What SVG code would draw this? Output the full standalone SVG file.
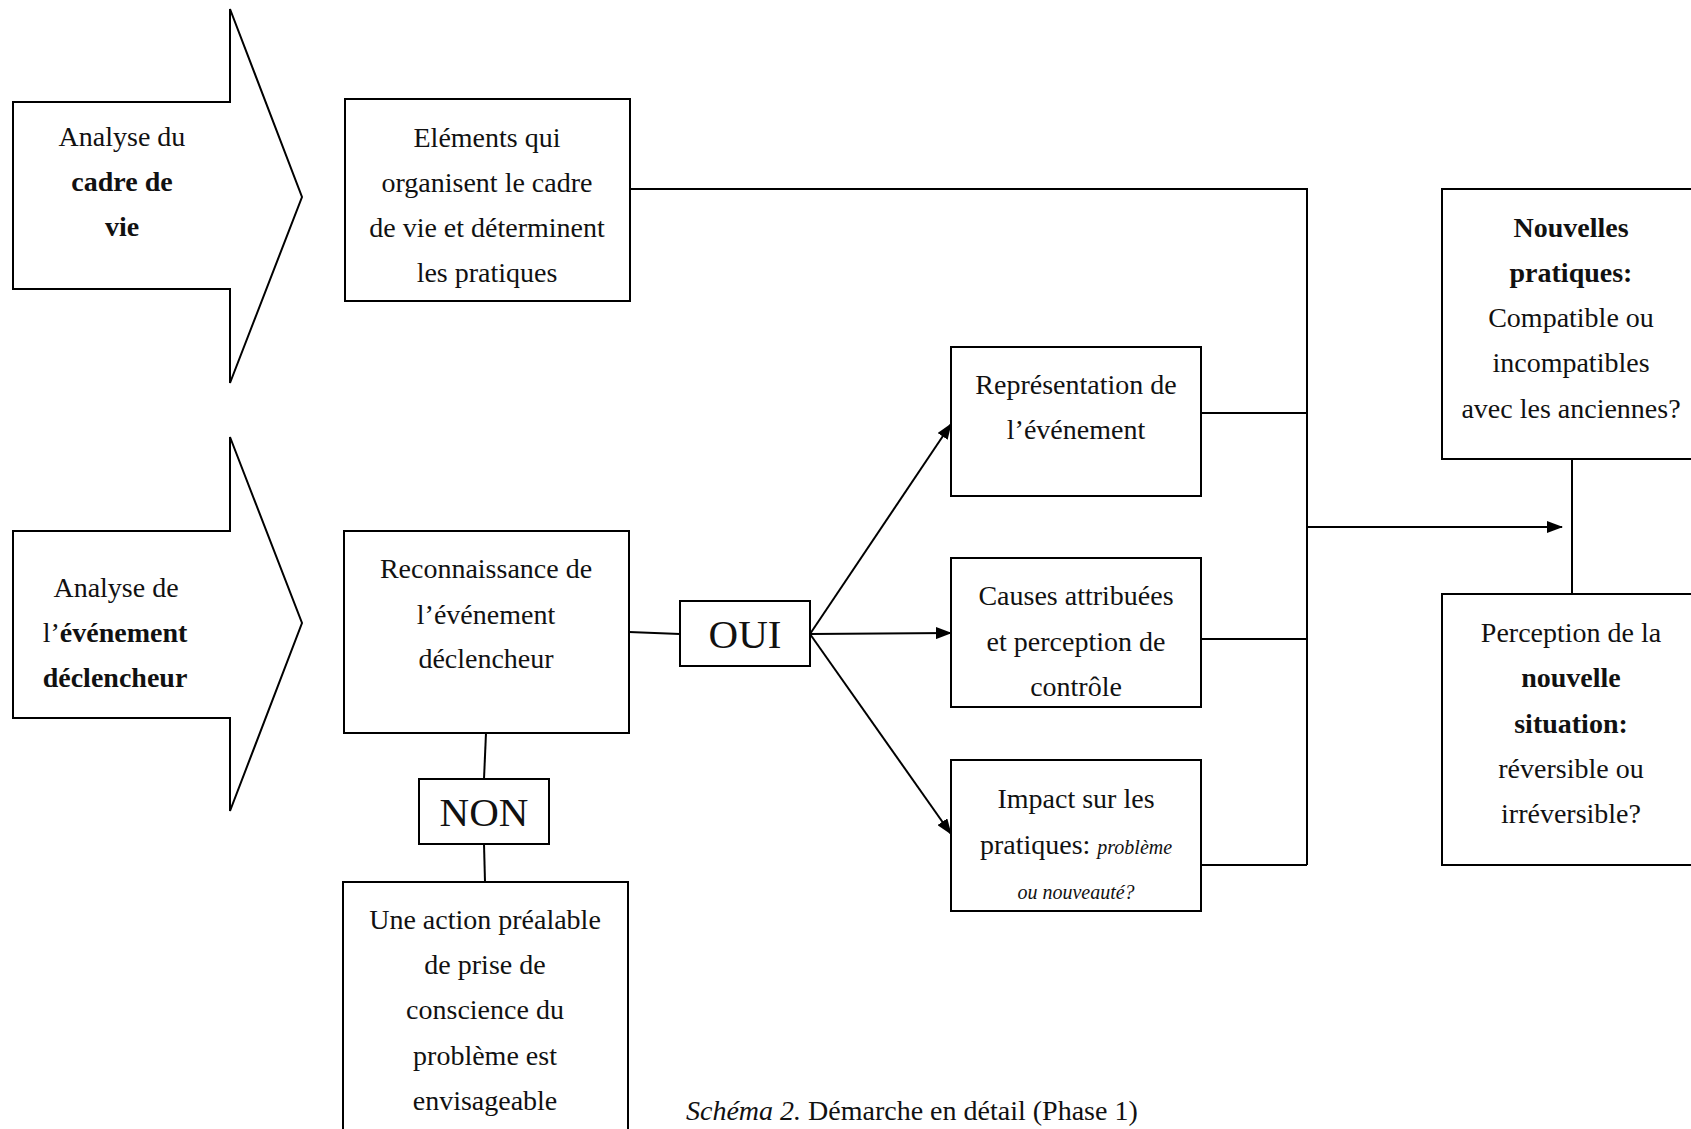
<svg xmlns="http://www.w3.org/2000/svg" width="1691" height="1129" viewBox="0 0 1691 1129">
  <defs>
    <marker id="arrowhead" markerWidth="16" markerHeight="12" refX="15" refY="6" orient="auto" markerUnits="userSpaceOnUse">
      <path d="M0,0 L16,6 L0,12 Z" fill="#000"/>
    </marker>
    <style>
      .shape { fill: #fff; stroke: #000; stroke-width: 2; }
      .link { fill: none; stroke: #000; stroke-width: 2; }
      .txt { font-family: "Liberation Serif", "DejaVu Serif", serif; font-size: 28px; fill: #111; text-anchor: middle; }
      .big { font-size: 41px; }
      .small { font-size: 20px; font-style: italic; }
      .b { font-weight: bold; }
      .i { font-style: italic; }
    </style>
  </defs>

  <rect width="1691" height="1129" fill="#fff"/>

  <!-- Block arrow: analysis of the living environment -->
  <g id="arrow-cadre">
    <path class="shape" d="M13,102 L230,102 L230,9 L302,197 L230,383 L230,289 L13,289 Z"/>
    <text class="txt" x="122" y="146">Analyse du</text>
    <text class="txt b" x="122" y="191">cadre de</text>
    <text class="txt b" x="122" y="236">vie</text>
  </g>

  <!-- Block arrow: analysis of the triggering event -->
  <g id="arrow-evenement">
    <path class="shape" d="M13,531 L230,531 L230,437 L302,623 L230,811 L230,718 L13,718 Z"/>
    <text class="txt" x="116" y="597">Analyse de</text>
    <text class="txt" x="115" y="642">l’<tspan class="b">événement</tspan></text>
    <text class="txt b" x="115" y="687">déclencheur</text>
  </g>

  <!-- Connectors -->
  <g id="connectors">
    <polyline class="link" points="630,189 1307,189 1307,865"/>
    <line class="link" x1="1201" y1="413" x2="1307" y2="413"/>
    <line class="link" x1="1201" y1="639" x2="1307" y2="639"/>
    <line class="link" x1="1201" y1="865" x2="1307" y2="865"/>
    <line class="link" x1="1307" y1="527" x2="1562" y2="527" marker-end="url(#arrowhead)"/>
    <line class="link" x1="1572" y1="459" x2="1572" y2="594"/>
    <line class="link" x1="629" y1="632" x2="680" y2="634"/>
    <line class="link" x1="810" y1="634" x2="951" y2="424" marker-end="url(#arrowhead)"/>
    <line class="link" x1="810" y1="634" x2="951" y2="633" marker-end="url(#arrowhead)"/>
    <line class="link" x1="810" y1="634" x2="951" y2="834" marker-end="url(#arrowhead)"/>
    <line class="link" x1="486" y1="733" x2="484" y2="779"/>
    <line class="link" x1="484" y1="844" x2="485" y2="882"/>
  </g>

  <g id="elements">
    <rect class="shape" x="345" y="99" width="285" height="202"/>
    <text class="txt" x="487" y="147">Eléments qui</text>
    <text class="txt" x="487" y="192">organisent le cadre</text>
    <text class="txt" x="487" y="237">de vie et déterminent</text>
    <text class="txt" x="487" y="282">les pratiques</text>
  </g>

  <g id="reconnaissance">
    <rect class="shape" x="344" y="531" width="285" height="202"/>
    <text class="txt" x="486" y="578">Reconnaissance de</text>
    <text class="txt" x="486" y="624">l’événement</text>
    <text class="txt" x="486" y="668">déclencheur</text>
  </g>

  <g id="oui">
    <rect class="shape" x="680" y="601" width="130" height="65"/>
    <text class="txt big" x="745" y="648">OUI</text>
  </g>

  <g id="non">
    <rect class="shape" x="419" y="779" width="130" height="65"/>
    <text class="txt big" x="484" y="826">NON</text>
  </g>

  <g id="action-prealable">
    <rect class="shape" x="343" y="882" width="285" height="260"/>
    <text class="txt" x="485" y="929">Une action préalable</text>
    <text class="txt" x="485" y="974">de prise de</text>
    <text class="txt" x="485" y="1019">conscience du</text>
    <text class="txt" x="485" y="1065">problème est</text>
    <text class="txt" x="485" y="1110">envisageable</text>
  </g>

  <g id="representation">
    <rect class="shape" x="951" y="347" width="250" height="149"/>
    <text class="txt" x="1076" y="394">Représentation de</text>
    <text class="txt" x="1076" y="439">l’événement</text>
  </g>

  <g id="causes">
    <rect class="shape" x="951" y="558" width="250" height="149"/>
    <text class="txt" x="1076" y="605">Causes attribuées</text>
    <text class="txt" x="1076" y="651">et perception de</text>
    <text class="txt" x="1076" y="696">contrôle</text>
  </g>

  <g id="impact">
    <rect class="shape" x="951" y="760" width="250" height="151"/>
    <text class="txt" x="1076" y="808">Impact sur les</text>
    <text class="txt" x="1076" y="854">pratiques: <tspan class="small">problème</tspan></text>
    <text class="txt small" x="1076" y="899">ou nouveauté?</text>
  </g>

  <g id="nouvelles-pratiques">
    <rect class="shape" x="1442" y="189" width="260" height="270"/>
    <text class="txt b" x="1571" y="237">Nouvelles</text>
    <text class="txt b" x="1571" y="282">pratiques:</text>
    <text class="txt" x="1571" y="327">Compatible ou</text>
    <text class="txt" x="1571" y="372">incompatibles</text>
    <text class="txt" x="1571" y="418">avec les anciennes?</text>
  </g>

  <g id="perception">
    <rect class="shape" x="1442" y="594" width="260" height="271"/>
    <text class="txt" x="1571" y="642">Perception de la</text>
    <text class="txt b" x="1571" y="687">nouvelle</text>
    <text class="txt b" x="1571" y="733">situation:</text>
    <text class="txt" x="1571" y="778">réversible ou</text>
    <text class="txt" x="1571" y="823">irréversible?</text>
  </g>

  <!-- Caption -->
  <text class="txt" x="686" y="1120" style="text-anchor:start"><tspan class="i">Schéma 2.</tspan> Démarche en détail (Phase 1)</text>
</svg>
